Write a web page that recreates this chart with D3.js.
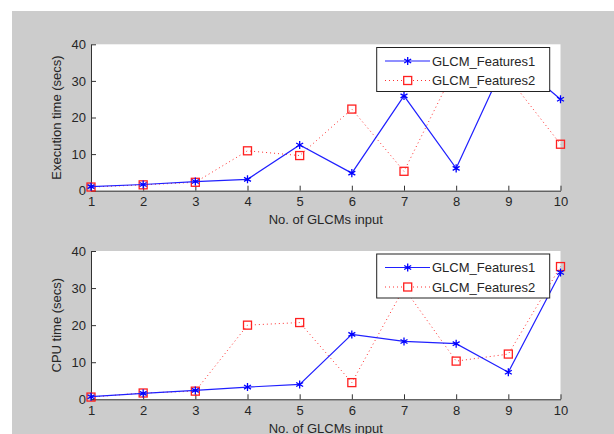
<!DOCTYPE html>
<html>
<head>
<meta charset="utf-8">
<script src="https://cdnjs.cloudflare.com/ajax/libs/d3/7.8.5/d3.min.js"></script>
<style>
  body { margin: 0; background: #fff; }
  svg text { font-family: "Liberation Sans", Arial, sans-serif; fill: #262626; }
</style>
</head>
<body>
<div id="container"></div>
<script>
const xValues = [1, 2, 3, 4, 5, 6, 7, 8, 9, 10];
const yTicks = [0, 10, 20, 30, 40];
const seriesNames = ["GLCM_Features1", "GLCM_Features2"];

const execF1 = [1.1, 1.7, 2.5, 3.1, 12.5, 4.8, 25.9, 6.1, 37, 25.0];
const execF2 = [1.0, 1.6, 2.3, 10.9, 9.6, 22.3, 5.3, 34, 31, 12.7];
const cpuF1 = [0.7, 1.6, 2.4, 3.3, 4.0, 17.5, 15.6, 15.0, 7.3, 34.2];
const cpuF2 = [0.6, 1.7, 2.2, 20.0, 20.7, 4.5, 30, 10.3, 12.2, 35.8];

const w = 614;
const h = 434;
const svg = d3.select("#container").append("svg")
              .attr("width", w).attr("height", h);

// grey figure background
svg.append("rect").attr("x", 12).attr("y", 11)
   .attr("width", w - 12).attr("height", h - 11)
   .attr("fill", "#cccccc");

const left = 91;
const right = 560.5;

const panels = [
  { top: 44.3, bottom: 190.7, ylabel: "Execution time (secs)", s1: execF1, s2: execF2, legendTop: 47.5 },
  { top: 251, bottom: 399.3, ylabel: "CPU time (secs)", s1: cpuF1, s2: cpuF2, legendTop: 254 }
];

const x = d3.scaleLinear().domain([1, 10]).range([left, right]);

panels.forEach(function(p) {
  const y = d3.scaleLinear().domain([0, 40]).range([p.bottom, p.top]);
  const g = svg.append("g");

  g.append("rect").attr("x", left).attr("y", p.top)
   .attr("width", right - left).attr("height", p.bottom - p.top)
   .attr("fill", "#fff");

  const xAxis = d3.axisBottom(x).tickValues(xValues).tickSizeInner(-5).tickSizeOuter(0).tickPadding(6);
  const yAxis = d3.axisLeft(y).tickValues(yTicks).tickSizeInner(-5).tickSizeOuter(0).tickPadding(5);

  const xg = g.append("g").attr("transform", "translate(0," + p.bottom + ")").call(xAxis);
  const yg = g.append("g").attr("transform", "translate(" + left + ",0)").call(yAxis);
  [xg, yg].forEach(function(a) {
    a.selectAll("path, line").attr("stroke", "#333");
    a.selectAll("text").style("font-size", "13px").attr("fill", "#262626");
  });

  g.append("text")
   .attr("transform", "translate(56," + ((p.top + p.bottom) / 2) + ") rotate(-90)")
   .attr("text-anchor", "middle").attr("dy", "0.35em")
   .style("font-size", "13px")
   .text(p.ylabel);

  g.append("text")
   .attr("x", (left + right) / 2).attr("y", p.bottom + 29)
   .attr("text-anchor", "middle").attr("dy", "0.35em")
   .style("font-size", "13px")
   .text("No. of GLCMs input");

  const line = d3.line().x((d, i) => x(xValues[i])).y(d => y(d));

  g.append("path").datum(p.s2).attr("d", line)
   .attr("fill", "none").attr("stroke", "#ff3030").attr("stroke-width", 1)
   .attr("stroke-dasharray", "1,3");
  g.selectAll(".sq").data(p.s2).enter().append("rect")
   .attr("x", (d, i) => x(xValues[i]) - 4).attr("y", d => y(d) - 4)
   .attr("width", 8).attr("height", 8)
   .attr("fill", "none").attr("stroke", "#ff2020").attr("stroke-width", 1.3);

  const star = d3.symbol().type(d3.symbolAsterisk).size(45);
  g.append("path").datum(p.s1).attr("d", line)
   .attr("fill", "none").attr("stroke", "#2020ff").attr("stroke-width", 1.2);
  g.selectAll(".st").data(p.s1).enter().append("path")
   .attr("d", star)
   .attr("transform", (d, i) => "translate(" + x(xValues[i]) + "," + y(d) + ")")
   .attr("fill", "none").attr("stroke", "#0000ff").attr("stroke-width", 1.3);

  // legend
  const lx = 376.7, lw = 173, lh = 44;
  const lg = g.append("g");
  lg.append("rect").attr("x", lx).attr("y", p.legendTop)
    .attr("width", lw).attr("height", lh)
    .attr("fill", "#fff").attr("stroke", "#222").attr("stroke-width", 1);
  const rows = [p.legendTop + 13.5, p.legendTop + 33];
  lg.append("line").attr("x1", 385).attr("x2", 430).attr("y1", rows[0]).attr("y2", rows[0])
    .attr("stroke", "#2020ff").attr("stroke-width", 1.2);
  lg.append("path").attr("d", star)
    .attr("transform", "translate(407.7," + rows[0] + ")")
    .attr("fill", "none").attr("stroke", "#0000ff").attr("stroke-width", 1.3);
  lg.append("line").attr("x1", 385).attr("x2", 430).attr("y1", rows[1]).attr("y2", rows[1])
    .attr("stroke", "#ff3030").attr("stroke-width", 1).attr("stroke-dasharray", "1,3");
  lg.append("rect").attr("x", 403.7).attr("y", rows[1] - 4).attr("width", 8).attr("height", 8)
    .attr("fill", "#fff").attr("stroke", "#ff2020").attr("stroke-width", 1.3);
  seriesNames.forEach(function(n, i) {
    lg.append("text").attr("x", 432).attr("y", rows[i]).attr("dy", "0.35em")
      .style("font-size", "13px").text(n);
  });
});
</script>
</body>
</html>
